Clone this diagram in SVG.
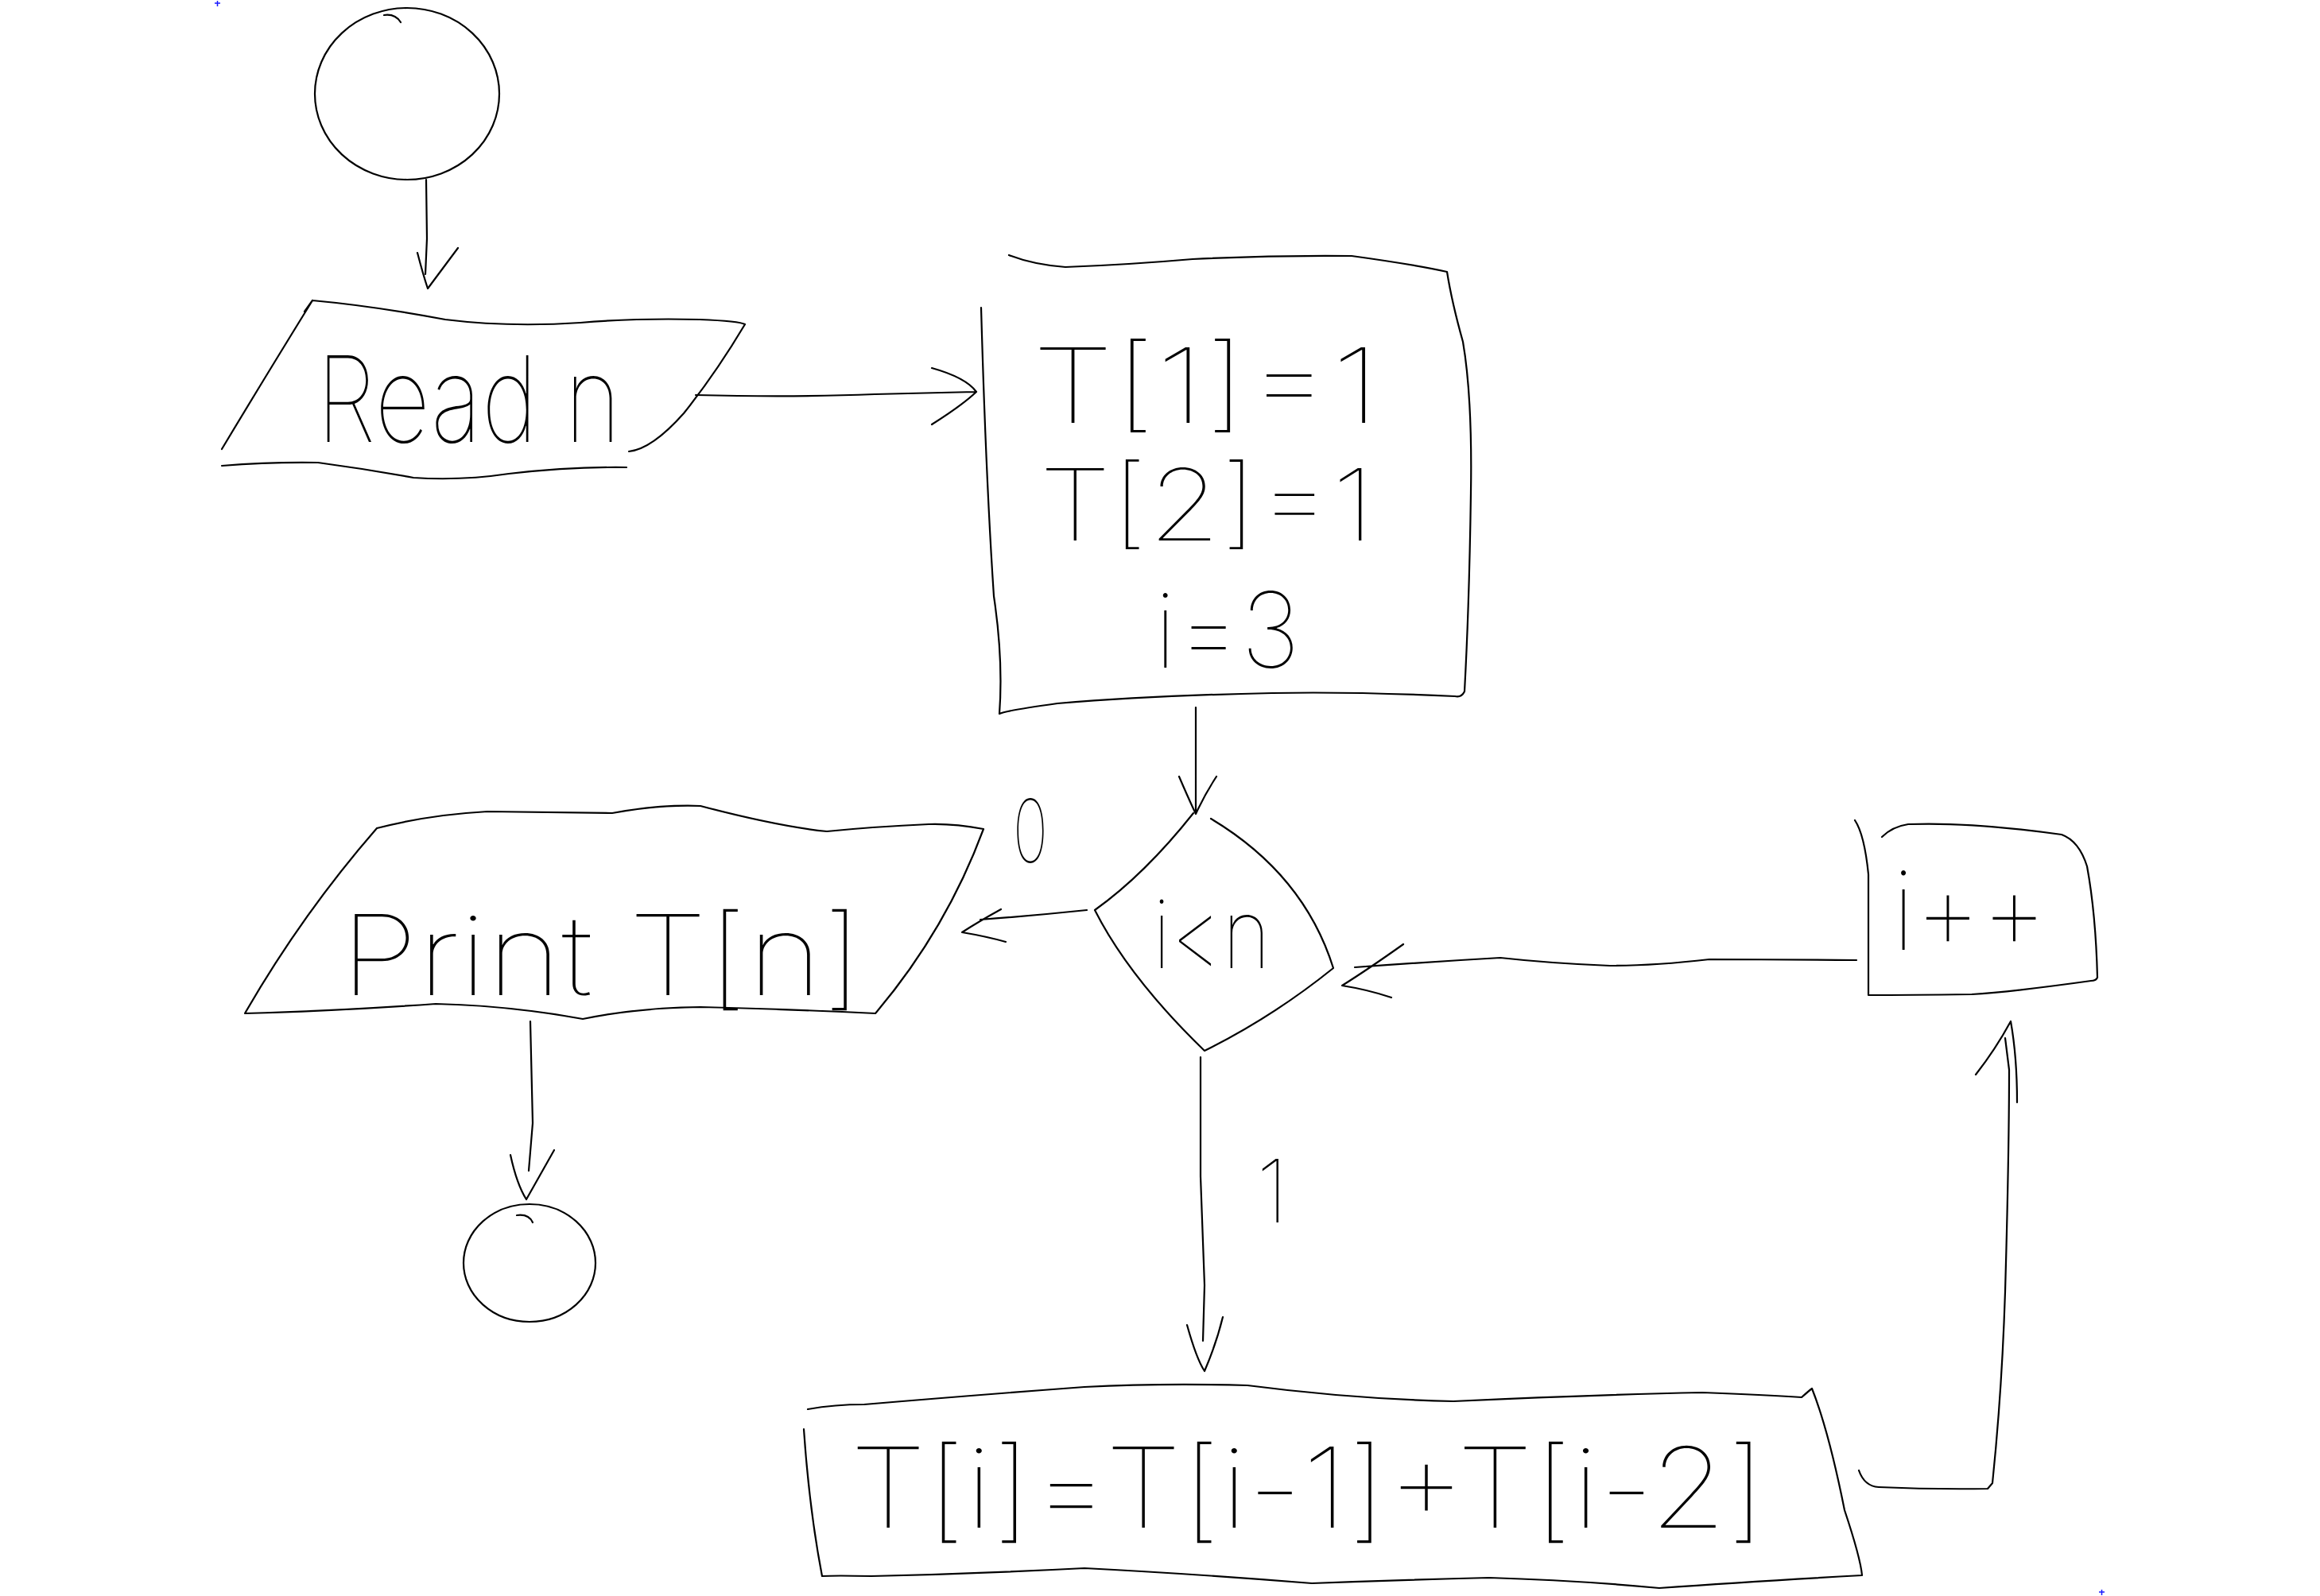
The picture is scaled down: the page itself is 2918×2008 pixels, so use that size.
<svg xmlns="http://www.w3.org/2000/svg" width="2918" height="2008" viewBox="0 0 2918 2008">
<style>
.s{fill:none;stroke:#000;stroke-width:2.2;stroke-linecap:round;stroke-linejoin:round}
.t{font-family:"Inter","Lato","Roboto","Liberation Sans",sans-serif;font-weight:100;fill:#000}
.m{fill:none;stroke:#1a1aff;stroke-width:1.5}
</style>
<rect width="2918" height="2008" fill="#fff"/>
<g id="markers">
<path class="m" d="M270 4h7M273.5 1v7"/>
<path class="m" d="M2640 2003h7M2643.5 2000v7"/>
</g>
<g id="start">
<ellipse class="s" cx="512" cy="118" rx="116" ry="108"/>
<path class="s" d="M483 19Q497 17 504 28"/>
</g>
<g id="read">
<path class="s" d="M393 378L383 392M393 378Q470 385 560 402Q640 412 730 406Q800 400 880 402Q930 404 937 408Q900 470 860 520Q820 565 791 568M393 378Q330 480 279 565"/>
<path class="s" d="M279 586Q340 581 400 582Q460 590 520 601Q580 605 640 596Q720 587 788 588"/>
<text class="t" x="398" y="556" font-size="150" textLength="383" lengthAdjust="spacingAndGlyphs">Read n</text>
</g>
<g id="init">
<path class="s" d="M1269 321Q1300 333 1340 336Q1420 333 1500 326Q1600 321 1700 322Q1780 333 1820 342Q1826 380 1840 430Q1852 500 1850 620Q1848 760 1842 870Q1838 878 1830 876Q1700 870 1600 872Q1450 875 1330 885Q1265 894 1257 898M1234 387Q1240 600 1250 750Q1262 830 1257 898"/>
<text class="t" x="1298" y="532" font-size="130" textLength="438" lengthAdjust="spacingAndGlyphs">T[1]=1</text>
<text class="t" x="1307" y="680" font-size="125" textLength="422" lengthAdjust="spacingAndGlyphs">T[2]=1</text>
<text class="t" x="1452" y="840" font-size="132" textLength="183" lengthAdjust="spacingAndGlyphs">i=3</text>
</g>
<g id="decision">
<path class="s" d="M1501 1023Q1440 1100 1377 1145Q1420 1230 1515 1322Q1600 1280 1677 1218Q1640 1100 1523 1030"/>
<text class="t" x="1450" y="1218" font-size="120" textLength="148" lengthAdjust="spacingAndGlyphs">i&lt;n</text>
</g>
<g id="print">
<path class="s" d="M474 1042Q540 1025 613 1021Q700 1022 770 1023Q830 1012 881 1014Q980 1040 1040 1046Q1100 1040 1168 1037Q1200 1036 1237 1043Q1190 1170 1101 1275Q1000 1270 881 1267Q800 1268 733 1282Q640 1265 548 1263Q420 1272 308 1275Q380 1150 474 1042"/>
<text class="t" x="428" y="1252" font-size="140" textLength="657" lengthAdjust="spacingAndGlyphs">Print T[n]</text>
</g>
<g id="end">
<ellipse class="s" cx="666" cy="1589" rx="83" ry="74"/>
<path class="s" d="M650 1529Q665 1527 670 1538"/>
</g>
<g id="update">
<path class="s" d="M1016 1773Q1050 1767 1087 1767Q1230 1755 1364 1745Q1460 1740 1569 1743Q1700 1760 1828 1763Q2000 1755 2141 1752Q2220 1755 2266 1758Q2275 1750 2279 1747Q2300 1800 2320 1900Q2340 1960 2342 1982Q2200 1990 2087 1998Q1980 1988 1873 1985Q1760 1988 1650 1992Q1500 1980 1364 1973Q1230 1980 1096 1983Q1050 1982 1034 1983Q1018 1900 1011 1798"/>
<text class="t" x="1069" y="1922" font-size="140" textLength="1152" lengthAdjust="spacingAndGlyphs">T[i]=T[i-1]+T[i-2]</text>
</g>
<g id="increment">
<path class="s" d="M2367 1053Q2380 1040 2400 1037Q2480 1034 2593 1050Q2615 1058 2625 1090Q2636 1150 2638 1230Q2636 1234 2630 1234Q2530 1248 2480 1251Q2400 1252 2350 1252Q2350 1150 2350 1100Q2345 1050 2333 1032"/>
<text class="t" x="2380" y="1195" font-size="140" textLength="195" lengthAdjust="spacingAndGlyphs">i++</text>
</g>
<g id="labels">
<text class="t" x="1274" y="1085" font-size="110" textLength="44" lengthAdjust="spacingAndGlyphs">0</text>
<text class="t" x="1580" y="1538" font-size="110">1</text>
</g>
<g id="connectors">
<path class="s" d="M536 226L537 300L535 345M525 318Q532 345 538 363L576 312"/>
<path class="s" d="M875 497Q1000 500 1100 496Q1180 494 1226 493M1172 463Q1215 475 1228 493Q1210 510 1172 534"/>
<path class="s" d="M1504 890L1504 1020M1483 977Q1495 1005 1504 1024Q1515 1000 1530 977"/>
<path class="s" d="M1367 1145Q1300 1152 1233 1157M1259 1144Q1230 1160 1210 1173Q1240 1178 1265 1185"/>
<path class="s" d="M1510 1330L1510 1480L1515 1617L1513 1687M1493 1667Q1505 1710 1515 1725Q1530 1690 1538 1657"/>
<path class="s" d="M667 1285L670 1413L665 1473M642 1453Q650 1490 662 1509L697 1447"/>
<path class="s" d="M2338 1850Q2345 1870 2363 1871Q2430 1874 2500 1873L2506 1866Q2518 1750 2522 1625Q2527 1450 2527 1346L2522 1306M2485 1352Q2510 1320 2529 1285Q2537 1330 2537 1387"/>
<path class="s" d="M2335 1208Q2230 1207 2150 1207Q2080 1215 2025 1215Q1950 1212 1887 1205Q1800 1210 1704 1217M1765 1188Q1720 1220 1688 1240Q1720 1245 1750 1255"/>
</g>
</svg>
